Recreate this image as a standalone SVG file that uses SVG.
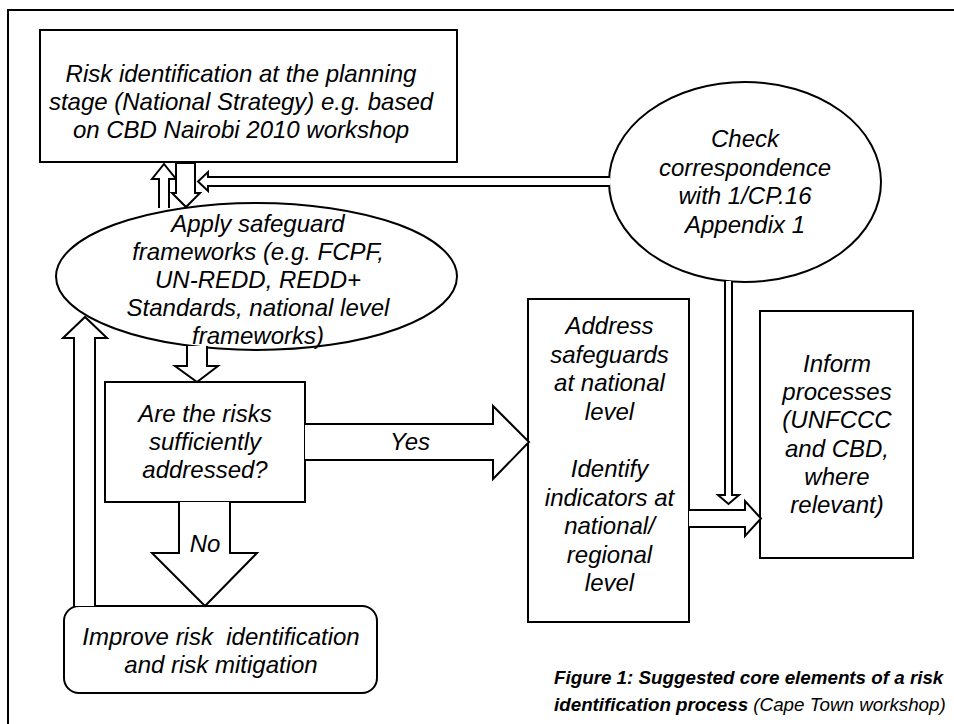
<svg xmlns="http://www.w3.org/2000/svg" width="954" height="724" viewBox="0 0 954 724">
<style>
.n{fill:#fff;stroke:#000;stroke-width:2}
.c{fill:#fff;stroke:#000;stroke-width:2;stroke-linejoin:miter}
.t{font-family:"Liberation Sans",Arial,sans-serif;font-size:24px;font-style:italic;fill:#000;text-anchor:middle}
.cap{font-family:"Liberation Sans",Arial,sans-serif;font-size:18.8px;font-style:italic;fill:#000}
</style>
<rect width="954" height="724" fill="#fff"/>
<path d="M8,724 V10 H954" fill="none" stroke="#000" stroke-width="2"/>

<g id="risk-identification">
<rect class="n" x="40" y="30" width="417" height="132"/>
<text class="t" x="241" y="82">Risk identification at the planning</text>
<text class="t" x="241" y="110">stage (National Strategy) e.g. based</text>
<text class="t" x="241" y="138">on CBD Nairobi 2010 workshop</text>
</g>

<g id="check-correspondence">
<ellipse class="n" cx="745" cy="182" rx="136" ry="100"/>
<text class="t" x="745" y="147">Check</text>
<text class="t" x="745" y="175.5">correspondence</text>
<text class="t" x="745" y="204">with 1/CP.16</text>
<text class="t" x="745" y="232.5">Appendix 1</text>
</g>

<g id="apply-safeguards">
<ellipse class="n" cx="256.5" cy="276.5" rx="200.5" ry="73.5"/>
<text class="t" x="258" y="232">Apply safeguard</text>
<text class="t" x="258" y="260">frameworks (e.g. FCPF,</text>
<text class="t" x="258" y="288">UN-REDD, REDD+</text>
<text class="t" x="258" y="316">Standards, national level</text>
<text class="t" x="258" y="344">frameworks)</text>
</g>

<g id="risks-addressed">
<rect class="n" x="105" y="382" width="200" height="120"/>
<text class="t" x="205" y="422">Are the risks</text>
<text class="t" x="205" y="450">sufficiently</text>
<text class="t" x="205" y="478">addressed?</text>
</g>

<g id="address-safeguards">
<rect class="n" x="528" y="299" width="161" height="323"/>
<text class="t" x="609.5" y="334">Address</text>
<text class="t" x="609.5" y="363">safeguards</text>
<text class="t" x="609.5" y="391">at national</text>
<text class="t" x="609.5" y="420">level</text>
<text class="t" x="609.5" y="477">Identify</text>
<text class="t" x="609.5" y="506">indicators at</text>
<text class="t" x="609.5" y="534">national/</text>
<text class="t" x="609.5" y="563">regional</text>
<text class="t" x="609.5" y="591">level</text>
</g>

<g id="inform-processes">
<rect class="n" x="760" y="311" width="153" height="247"/>
<text class="t" x="837" y="372">Inform</text>
<text class="t" x="837" y="400">processes</text>
<text class="t" x="837" y="428">(UNFCCC</text>
<text class="t" x="837" y="457">and CBD,</text>
<text class="t" x="837" y="485">where</text>
<text class="t" x="837" y="513">relevant)</text>
</g>

<g id="improve-risk">
<rect class="n" x="64" y="606" width="313" height="87" rx="15" ry="15"/>
<text class="t" x="221" y="645" style="white-space:pre">Improve risk  identification</text>
<text class="t" x="221" y="673">and risk mitigation</text>
</g>

<g id="connectors">
<path class="c" d="M159,208 V179 H152 L164,164 L176,179 H169 V208"/>
<path class="c" d="M176,163 V193 H172 L186,207 L200,193 H195 V163 Z"/>
<path class="c" d="M610,177 H208 V172 L198,181.5 L208,191 V186 H610"/>
<path class="c" d="M187,346 V366 H175 L197,382 L218,366 H207 V346"/>
<path class="c" d="M305,424 H493 V406 L529,442 L493,479 V460 H305"/>
<path class="c" d="M179,502 V553 H152 L205,606 L257,553 H230 V502"/>
<path class="c" d="M95,606 V338 H107 L85,317 L63,338 H74 V606"/>
<path class="c" d="M725,281 V495 H718 L728.5,504 L739,495 H732 V281"/>
<path class="c" d="M689,510 H745 V501 L761,518.5 L745,536 V527 H689"/>
<text class="t" x="410" y="450">Yes</text>
<text class="t" x="205" y="552">No</text>
</g>

<g id="caption">
<text class="cap" x="554" y="684" font-weight="bold">Figure 1: Suggested core elements of a risk</text>
<text class="cap" x="554" y="711"><tspan font-weight="bold">identification process</tspan> (Cape Town workshop)</text>
</g>
</svg>
